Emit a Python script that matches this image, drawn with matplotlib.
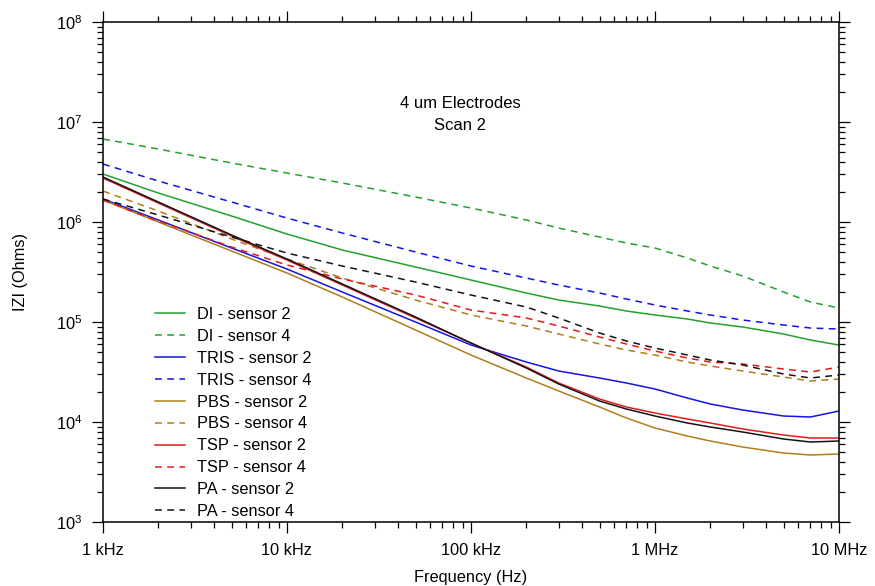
import numpy as np
import matplotlib
matplotlib.use("Agg")
import matplotlib.pyplot as plt
from matplotlib.ticker import LogLocator, NullFormatter, FixedLocator, FixedFormatter

plt.rcParams['font.family'] = ['Liberation Sans', 'DejaVu Sans']
plt.rcParams['mathtext.fontset'] = 'custom'
plt.rcParams['mathtext.rm'] = 'Liberation Sans'
plt.rcParams['mathtext.it'] = 'Liberation Sans:italic'
plt.rcParams['mathtext.bf'] = 'Liberation Sans:bold'

# Frequency grid (Hz)
freq = [1e3, 2e3, 5e3, 1e4, 2e4, 5e4, 1e5, 2e5, 3e5, 5e5, 7e5,
        1e6, 1.5e6, 2e6, 3e6, 5e6, 7e6, 1e7]

# log10 |Z| (Ohms) for each electrolyte / sensor
di_s2 = [6.48, 6.29, 6.06, 5.88, 5.72, 5.55, 5.42, 5.29, 5.22, 5.16, 5.11,
         5.07, 5.03, 4.99, 4.95, 4.88, 4.82, 4.77]
di_s4 = [6.83, 6.73, 6.59, 6.49, 6.39, 6.25, 6.14, 6.02, 5.94, 5.85, 5.79,
         5.74, 5.64, 5.56, 5.46, 5.30, 5.20, 5.14]
tris_s2 = [6.23, 6.02, 5.74, 5.53, 5.30, 5.00, 4.77, 4.60, 4.51, 4.44, 4.39,
           4.33, 4.24, 4.18, 4.12, 4.06, 4.05, 4.11]
tris_s4 = [6.58, 6.41, 6.20, 6.04, 5.89, 5.70, 5.56, 5.44, 5.37, 5.29, 5.23,
           5.17, 5.11, 5.07, 5.02, 4.97, 4.94, 4.93]
pbs_s2 = [6.22, 6.00, 5.71, 5.49, 5.25, 4.92, 4.67, 4.44, 4.31, 4.15, 4.04,
          3.94, 3.86, 3.81, 3.75, 3.69, 3.67, 3.68]
pbs_s4 = [6.31, 6.11, 5.83, 5.63, 5.44, 5.22, 5.07, 4.96, 4.88, 4.78, 4.72,
          4.67, 4.60, 4.56, 4.51, 4.45, 4.41, 4.43]
tsp_s2 = [6.44, 6.19, 5.86, 5.62, 5.37, 5.04, 4.79, 4.55, 4.39, 4.23, 4.15,
          4.09, 4.03, 3.99, 3.93, 3.87, 3.84, 3.84]
tsp_s4 = [6.22, 6.01, 5.75, 5.57, 5.43, 5.27, 5.12, 5.04, 4.96, 4.85, 4.78,
          4.71, 4.64, 4.60, 4.58, 4.53, 4.50, 4.55]
pa_s2 = [6.45, 6.20, 5.87, 5.63, 5.38, 5.05, 4.79, 4.54, 4.38, 4.21, 4.13,
         4.06, 3.99, 3.95, 3.90, 3.83, 3.80, 3.81]
pa_s4 = [6.23, 6.07, 5.85, 5.69, 5.56, 5.40, 5.27, 5.15, 5.04, 4.89, 4.81,
         4.74, 4.67, 4.62, 4.57, 4.48, 4.44, 4.47]

labels = ["DI - sensor 2", "DI - sensor 4", "TRIS - sensor 2", "TRIS - sensor 4",
          "PBS - sensor 2", "PBS - sensor 4", "TSP - sensor 2", "TSP - sensor 4",
          "PA - sensor 2", "PA - sensor 4"]
series = [di_s2, di_s4, tris_s2, tris_s4, pbs_s2, pbs_s4, tsp_s2, tsp_s4, pa_s2, pa_s4]

xtick_vals = [1e3, 1e4, 1e5, 1e6, 1e7]
xtick_text = ["1 kHz", "10 kHz", "100 kHz", "1 MHz", "10 MHz"]
ytick_vals = [1e3, 1e4, 1e5, 1e6, 1e7, 1e8]
ytick_text = [r"$10^{3}$", r"$10^{4}$", r"$10^{5}$", r"$10^{6}$", r"$10^{7}$", r"$10^{8}$"]

colors = ["#22a22a", "#22a22a", "#1414e6", "#1414e6", "#b07d1c", "#b07d1c",
          "#e31a1c", "#e31a1c", "#141414", "#141414"]
dash = (0, (4.5, 3.5))
styles = ["-", dash] * 5

fig = plt.figure(figsize=(8.75, 5.86), dpi=100)
ax = fig.add_axes([0.1177, 0.1092, 0.8411, 0.8532])

for vals, lab, c, ls in zip(series, labels, colors, styles):
    ax.plot(freq, 10 ** np.array(vals), color=c, linestyle=ls, lw=1.1, label=lab)

ax.set_xscale('log')
ax.set_yscale('log')
ax.set_xlim(1e3, 1e7)
ax.set_ylim(1e3, 1e8)

ax.xaxis.set_major_locator(FixedLocator(xtick_vals))
ax.xaxis.set_major_formatter(FixedFormatter(xtick_text))
ax.yaxis.set_major_locator(FixedLocator(ytick_vals))
ax.yaxis.set_major_formatter(FixedFormatter(ytick_text))
for axis in (ax.xaxis, ax.yaxis):
    axis.set_minor_locator(LogLocator(base=10, subs=np.arange(2, 10), numticks=20))
    axis.set_minor_formatter(NullFormatter())

ax.tick_params(which='both', direction='out', top=True, right=True, width=0.9,
               labelsize=11.8, colors='black')
ax.tick_params(which='major', length=8, pad=7)
ax.tick_params(which='minor', length=4.3)
for sp in ax.spines.values():
    sp.set_linewidth(1.1)

ax.set_xlabel("Frequency (Hz)", fontsize=11.8, labelpad=9)
ax.set_ylabel("IZI (Ohms)", fontsize=11.8, labelpad=20)

ax.text(0.485, 0.815, "4 um Electrodes\nScan 2", transform=ax.transAxes,
        ha='center', va='center', fontsize=12, linespacing=1.55)

ax.legend(loc='lower left', bbox_to_anchor=(0.0707, 0.006), frameon=False,
          fontsize=11.8, handlelength=1.85, handletextpad=0.7, labelspacing=0.42,
          borderpad=0, borderaxespad=0)

fig.savefig("out.png", dpi=100)
